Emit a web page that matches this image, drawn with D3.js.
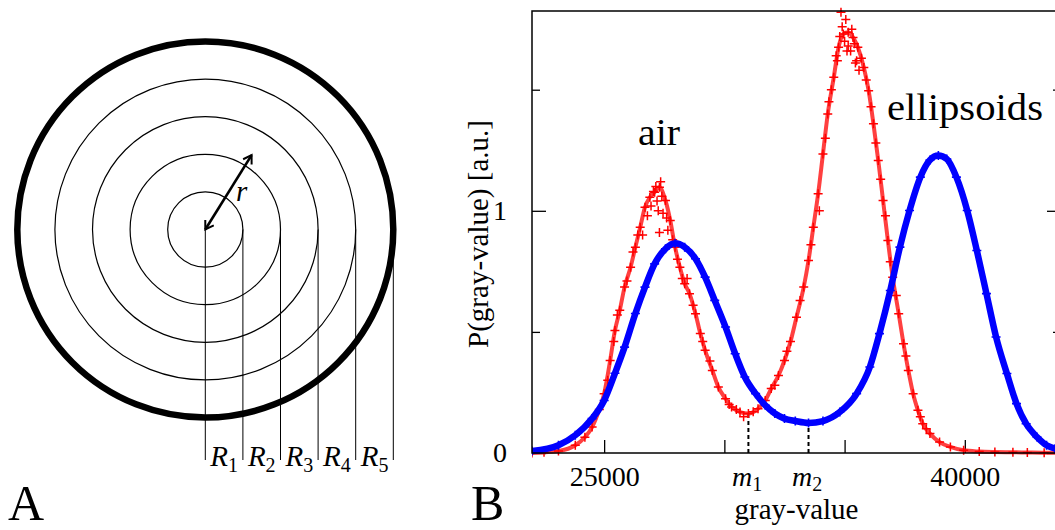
<!DOCTYPE html>
<meta charset="utf-8">
<head>
<style>
  body { margin: 0; background: #fff; }
  svg { display: block; }
  text { font-family: "Liberation Serif", "Times New Roman", serif; fill: #000; }
</style>
</head>
<body>
<svg id="fig" width="1055" height="530"></svg>
<script src="https://cdn.jsdelivr.net/npm/d3@7"></script>
<script>
// ---- panel A: shells
var ringUnits = [1, 2, 3, 4, 5];
var ringEdges = [0, 1, 2, 3, 4, 5];
var ringLabels = ["1", "2", "3", "4", "5"];

// ---- panel B: histograms (gray-value, P)
var blueGray = [22000, 23100, 23800, 24500, 25000, 25450, 25850, 26300, 26700, 27100, 27550, 27950,
  28350, 28800, 29200, 29600, 30050, 30450, 30850, 31300, 31700, 32100, 32500, 32950, 33500, 34100,
  34800, 35500, 36050, 36450, 36900, 37300, 37700, 38150, 38550, 38900, 39250, 39650, 40100, 40500,
  40900, 41300, 41750, 42150, 42550, 43000, 43400, 43750, 44000];
var blueP = [0.008, 0.032, 0.073, 0.142, 0.217, 0.329, 0.437, 0.576, 0.685, 0.781, 0.843, 0.866,
  0.850, 0.802, 0.726, 0.630, 0.520, 0.410, 0.314, 0.245, 0.197, 0.163, 0.142, 0.132, 0.124, 0.132,
  0.169, 0.245, 0.355, 0.493, 0.671, 0.850, 1.001, 1.139, 1.210, 1.228, 1.214, 1.139, 1.001, 0.836,
  0.658, 0.479, 0.328, 0.204, 0.121, 0.066, 0.032, 0.018, 0.012];

var redGray = [22000, 22500, 23100, 23800, 24200, 24500, 24800, 25000, 25250, 25450, 25650, 25850,
  26100, 26300, 26500, 26700, 26900, 27100, 27300, 27550, 27750, 27950, 28150, 28350, 28550, 28800,
  29000, 29200, 29500, 29750, 30050, 30300, 30650, 31000, 31400, 31700, 31950, 32250, 32500, 32750,
  33000, 33300, 33500, 33700, 33900, 34100, 34300, 34550, 34750, 34950, 35150, 35350, 35550, 35800,
  36000, 36200, 36400, 36600, 36800, 37000, 37250, 37450, 37650, 37850, 38050, 38250, 38550, 38950,
  39400, 39950, 40600, 41250, 42000, 42600, 43300, 44000];
var redP = [0.0, 0.003, 0.008, 0.032, 0.065, 0.107, 0.18, 0.245, 0.382, 0.506, 0.589, 0.685,
  0.767, 0.85, 0.932, 1.015, 1.056, 1.077, 1.097, 1.043, 0.96, 0.85, 0.767, 0.699, 0.658, 0.575,
  0.493, 0.424, 0.341, 0.272, 0.224, 0.19, 0.169, 0.163, 0.183, 0.217, 0.266, 0.32, 0.382, 0.46,
  0.561, 0.685, 0.795, 0.932, 1.07, 1.235, 1.40, 1.551, 1.675, 1.73, 1.737, 1.716, 1.675, 1.592,
  1.496, 1.359, 1.208, 1.043, 0.877, 0.726, 0.575, 0.451, 0.341, 0.245, 0.176, 0.121, 0.08, 0.045,
  0.025, 0.011, 0.006, 0.004, 0.003, 0.002, 0.001, 0.001];
// scattered red crosses around the peaks and flanks
var redScatterGray = [25150, 25400, 25550, 25950, 26200, 26400, 26600, 26800, 26950, 27050, 27150,
  27200, 27250, 27300, 27350, 27400, 27450, 27600, 27650, 27850, 28050, 28250, 28450, 28700, 29100,
  29400, 30200, 30500, 30800, 31200, 32100, 32600, 33150, 33600, 33950, 34200, 34350, 34450, 34650,
  34700, 34800, 34850, 34900, 35000, 35050, 35100, 35150, 35250, 35300, 35400, 35450, 35500, 35600,
  35700, 35900, 36100, 36300, 36500, 36700, 36900, 37150, 37550, 38150, 38400];
var redScatterP = [0.30, 0.46, 0.57, 0.71, 0.83, 0.90, 0.90, 0.98, 1.02, 1.08, 1.10,
  1.04, 1.00, 0.91, 1.12, 1.06, 0.99, 0.97, 0.92, 0.88, 0.80, 0.72, 0.72, 0.61, 0.46,
  0.38, 0.20, 0.18, 0.15, 0.17, 0.28, 0.42, 0.63, 0.86, 1.00, 1.30, 1.45, 1.50, 1.64,
  1.62, 1.72, 1.82, 1.76, 1.70, 1.79, 1.66, 1.68, 1.66, 1.75, 1.69, 1.61, 1.62, 1.58,
  1.63, 1.54, 1.43, 1.28, 1.13, 0.98, 0.79, 0.65, 0.40, 0.15, 0.10];

var xTicks = [25000, 30000, 35000, 40000];
var xTickLabels = ["25000", "", "", "40000"];
var yTicksMajor = [0, 1];
var yTicksMinor = [0.5, 1.5];
var mValues = [31000, 33500];
var mHeights = [0.163, 0.124];
var mLabels = ["1", "2"];

var svg = d3.select("#fig");

// ================= panel A =================
var cx = 205.3, cy = 229.5;
var rs = d3.scaleLinear().domain([0, 5]).range([0, 188]);
var gA = svg.append("g");

gA.selectAll("circle.ring")
  .data(ringUnits)
  .enter().append("circle")
  .attr("class", "ring")
  .attr("cx", cx).attr("cy", cy)
  .attr("r", d => rs(d))
  .attr("fill", "none")
  .attr("stroke", "#000")
  .attr("stroke-width", d => d === 5 ? 6.5 : 1.2);

gA.selectAll("line.edge")
  .data(ringEdges)
  .enter().append("line")
  .attr("x1", d => cx + rs(d)).attr("x2", d => cx + rs(d))
  .attr("y1", cy).attr("y2", 460)
  .attr("stroke", "#000").attr("stroke-width", 1);

var lab = gA.selectAll("text.rl")
  .data(ringLabels)
  .enter().append("text")
  .attr("x", (d, i) => cx + rs(i) + 5)
  .attr("y", 465.7)
  .style("font-size", "29px");
lab.append("tspan").style("font-style", "italic").text("R");
lab.append("tspan").attr("dy", 6).style("font-size", "20px").text(d => d);

svg.append("defs").append("marker")
  .attr("id", "ah")
  .attr("viewBox", "-10 -6 12 12")
  .attr("refX", 0).attr("refY", 0)
  .attr("markerWidth", 12).attr("markerHeight", 12)
  .attr("markerUnits", "userSpaceOnUse")
  .attr("orient", "auto-start-reverse")
  .append("path")
  .attr("d", "M-8,-5L0,0L-8,5")
  .attr("fill", "none").attr("stroke", "#000").attr("stroke-width", 2);

var ang = 58.1 * Math.PI / 180, alen = rs(2.33);
gA.append("line")
  .attr("x1", cx).attr("y1", cy)
  .attr("x2", cx + alen * Math.cos(ang)).attr("y2", cy - alen * Math.sin(ang))
  .attr("stroke", "#000").attr("stroke-width", 2.6)
  .attr("marker-start", "url(#ah)").attr("marker-end", "url(#ah)");

gA.append("text").attr("x", 236).attr("y", 201)
  .style("font-size", "29px").style("font-style", "italic").text("r");

svg.append("text").attr("x", 8).attr("y", 520).style("font-size", "50px").text("A");

// ================= panel B =================
var x = d3.scaleLinear().domain([22000, 44000]).range([532, 1061]);
var y = d3.scaleLinear().domain([0, 1.825]).range([453, 11]);

svg.append("clipPath").attr("id", "plot")
  .append("rect").attr("x", 532).attr("y", 0).attr("width", 529).attr("height", 460);

var gB = svg.append("g");

function tidy(g) {
  g.select(".domain").remove();
  g.selectAll("line").attr("stroke", "#000").attr("stroke-width", 1.3);
  g.selectAll("text").style("font-family", "Liberation Serif, serif").style("font-size", "28px");
}

gB.append("g").attr("transform", "translate(0,453)")
  .call(d3.axisBottom(x).tickValues(xTicks).tickSize(-13).tickPadding(13)
    .tickFormat((d, i) => xTickLabels[i]))
  .call(tidy);

gB.append("g").attr("transform", "translate(532,0)")
  .call(d3.axisLeft(y).tickValues(yTicksMajor).tickSize(-14).tickPadding(25).tickFormat(d3.format("d")))
  .call(tidy);
gB.append("g").attr("transform", "translate(532,0)")
  .call(d3.axisLeft(y).tickValues(yTicksMinor).tickSize(-8).tickFormat(""))
  .call(tidy);
gB.append("g").attr("transform", "translate(1061,0)")
  .call(d3.axisRight(y).tickValues(yTicksMajor).tickSize(-14).tickFormat(""))
  .call(tidy);
gB.append("g").attr("transform", "translate(1061,0)")
  .call(d3.axisRight(y).tickValues(yTicksMinor).tickSize(-8).tickFormat(""))
  .call(tidy);

// m1, m2 dashed markers
gB.selectAll("line.m")
  .data(mValues)
  .enter().append("line")
  .attr("x1", d => x(d)).attr("x2", d => x(d))
  .attr("y1", y(0)).attr("y2", (d, i) => y(mHeights[i]))
  .attr("stroke", "#000").attr("stroke-width", 2).attr("stroke-dasharray", "4,3");

var ml = gB.selectAll("text.ml")
  .data(mValues)
  .enter().append("text")
  .attr("x", d => x(d) - 16.5)
  .attr("y", 486)
  .style("font-size", "28px");
ml.append("tspan").style("font-style", "italic").text("m");
ml.append("tspan").attr("dy", 5).style("font-size", "20px").text((d, i) => mLabels[i]);

var plot = gB.append("g").attr("clip-path", "url(#plot)");

var redPts = redGray.map((g, i) => [g, redP[i]]);
var redExtra = redScatterGray.map((g, i) => [g, redScatterP[i]]);
var bluePts = blueGray.map((g, i) => [g, blueP[i]]);

var line = d3.line().x(d => x(d[0])).y(d => y(d[1])).curve(d3.curveMonotoneX);

plot.append("path").datum(redPts)
  .attr("d", line).attr("fill", "none")
  .attr("stroke", "#ff1010").attr("stroke-width", 4).attr("stroke-opacity", 0.8);

var cross = function (s) { return "M" + (-s) + ",0H" + s + "M0," + (-s) + "V" + s; };

plot.selectAll("path.rc")
  .data(redPts.concat(redExtra))
  .enter().append("path")
  .attr("transform", d => "translate(" + x(d[0]) + "," + y(d[1]) + ")")
  .attr("d", cross(4.5))
  .attr("stroke", "#ff0000").attr("stroke-width", 1.5).attr("fill", "none");

plot.append("path").datum(bluePts)
  .attr("d", line).attr("fill", "none")
  .attr("stroke", "#0000ff").attr("stroke-width", 6.5);

plot.selectAll("path.bc")
  .data(bluePts)
  .enter().append("path")
  .attr("transform", d => "translate(" + x(d[0]) + "," + y(d[1]) + ")")
  .attr("d", cross(4.5))
  .attr("stroke", "#0000ff").attr("stroke-width", 1.6).attr("fill", "none");

// frame
gB.append("rect").attr("x", 532).attr("y", 11).attr("width", 529).attr("height", 442)
  .attr("fill", "none").attr("stroke", "#000").attr("stroke-width", 1.5);

// labels
gB.append("text").attr("x", 638).attr("y", 145).style("font-size", "37px")
  .attr("textLength", 42).attr("lengthAdjust", "spacingAndGlyphs").text("air");
gB.append("text").attr("x", 887).attr("y", 120).style("font-size", "37px")
  .attr("textLength", 156).attr("lengthAdjust", "spacingAndGlyphs").text("ellipsoids");
gB.append("text").attr("x", 796.5).attr("y", 519).attr("text-anchor", "middle")
  .style("font-size", "29px").text("gray-value");
gB.append("text").attr("transform", "translate(488,234) rotate(-90)").attr("text-anchor", "middle")
  .style("font-size", "29px").text("P(gray-value) [a.u.]");

svg.append("text").attr("x", 471).attr("y", 520).style("font-size", "50px").text("B");
</script>
</body>
